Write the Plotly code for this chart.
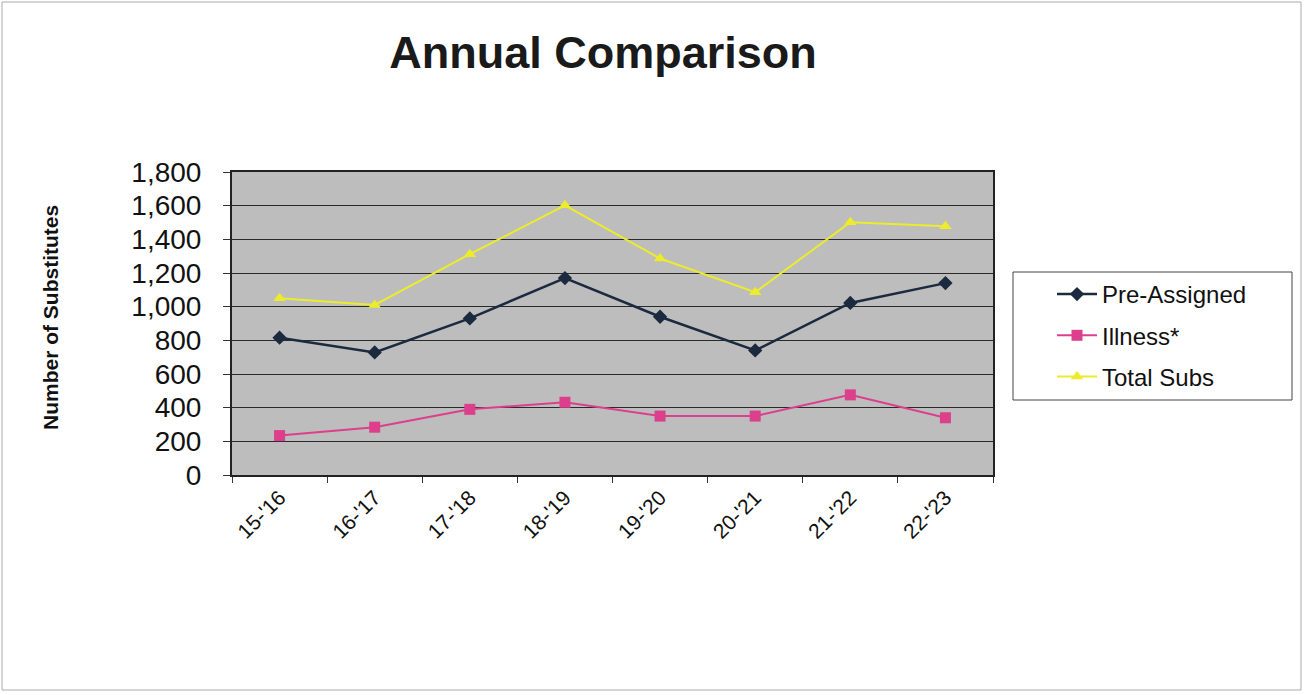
import plotly.graph_objects as go

years = ["15-'16", "16-'17", "17-'18", "18-'19", "19-'20", "20-'21", "21-'22", "22-'23"]
pre_assigned = [816, 728, 930, 1170, 940, 740, 1022, 1140]
illness = [234, 284, 390, 432, 350, 350, 476, 340]
total_subs = [1050, 1010, 1312, 1602, 1286, 1086, 1502, 1478]

W, H = 1304, 695
L, R, T, B = 232, 993, 172, 475

font = "Liberation Sans, Arial, sans-serif"

fig = go.Figure()
fig.add_trace(go.Scatter(x=years, y=pre_assigned, name="Pre-Assigned", mode="lines+markers",
                         line=dict(color="#1b2a3e", width=2.5),
                         marker=dict(symbol="diamond", size=11, color="#1b2a3e"),
                         legendgroup="a"))
fig.add_trace(go.Scatter(x=years, y=illness, name="Illness*", mode="lines+markers",
                         line=dict(color="#dc3f8c", width=2),
                         marker=dict(symbol="square", size=11, color="#dc3f8c"),
                         legendgroup="b"))
fig.add_trace(go.Scatter(x=years, y=total_subs, name="Total Subs", mode="lines+markers",
                         line=dict(color="#ecec2a", width=2),
                         marker=dict(symbol="triangle-up", size=11, color="#ecec2a"),
                         legendgroup="c"))

def px_x(p):
    return (p - L) / (R - L)

def px_y(p):
    return (B - p) / (B - T)

fig.update_layout(
    width=W, height=H,
    margin=dict(l=L, r=W - R, t=T, b=H - B),
    paper_bgcolor="white",
    plot_bgcolor="#bdbdbd",
    font=dict(family=font, color="#111"),
    title=dict(text="<b>Annual Comparison</b>", x=603 / W, xanchor="center",
               y=1 - 52 / H, yanchor="middle",
               font=dict(size=45, family=font, color="#1a1a1a")),
    showlegend=True,
    legend=dict(x=px_x(1052), xanchor="left", y=px_y(272), yanchor="top",
                bgcolor="rgba(0,0,0,0)", borderwidth=0,
                font=dict(size=24, family=font, color="#111"),
                tracegroupgap=7, itemwidth=40),
    xaxis=dict(type="category", range=[-0.5, 7.5], tickson="boundaries",
               ticks="outside", ticklen=6, tickcolor="#333",
               showline=True, linecolor="#222", linewidth=2, mirror=True,
               showgrid=False, tickangle=-45,
               tickfont=dict(size=21, family=font, color="#111")),
    yaxis=dict(range=[0, 1800], dtick=200, tickformat=",d",
               ticks="outside", ticklen=7, tickcolor="#333",
               showline=True, linecolor="#222", linewidth=2, mirror=True,
               showgrid=True, gridcolor="#2a2a2a", gridwidth=1,
               zeroline=False, ticklabelstandoff=16,
               tickfont=dict(size=28, family=font, color="#111")),
    annotations=[
        dict(text="<b>Number of Substitutes</b>", xref="paper", yref="paper",
             x=px_x(50), y=px_y(318), xanchor="center", yanchor="middle",
             textangle=-90, showarrow=False,
             font=dict(size=21, family=font, color="#111")),
    ],
    shapes=[
        dict(type="rect", xref="paper", yref="paper",
             x0=px_x(1013), x1=px_x(1292), y0=px_y(400), y1=px_y(272),
             line=dict(color="#444", width=1), fillcolor="rgba(0,0,0,0)"),
        dict(type="rect", xref="paper", yref="paper",
             x0=px_x(2), x1=px_x(1301), y0=px_y(690), y1=px_y(2),
             line=dict(color="#aaa", width=1), fillcolor="rgba(0,0,0,0)"),
    ],
)

fig.write_html("out.html")
